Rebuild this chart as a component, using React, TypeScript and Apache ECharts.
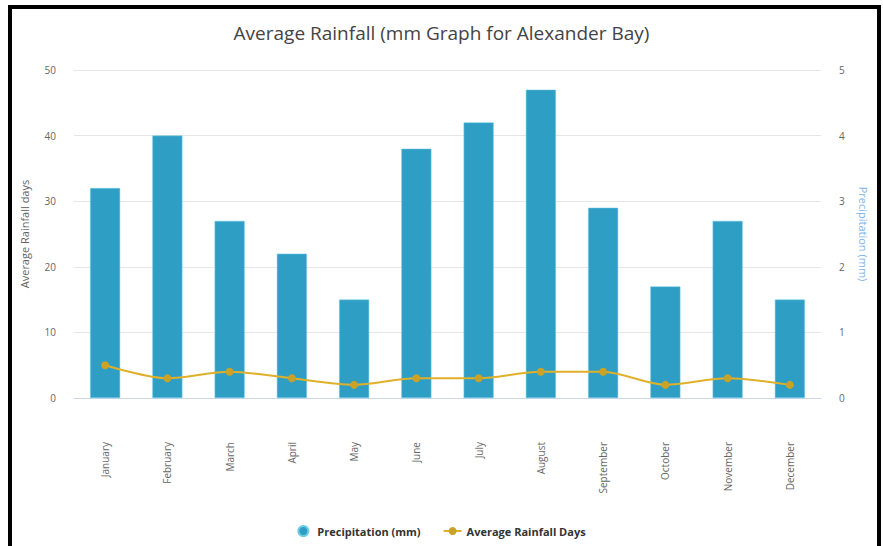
import React, { useEffect, useRef } from "react";
import * as echarts from "echarts";

const months = [
  "January", "February", "March", "April", "May", "June",
  "July", "August", "September", "October", "November", "December",
];
const precipitation = [32, 40, 27, 22, 15, 38, 42, 47, 29, 17, 27, 15];
const rainfallDays = [5, 3, 4, 3, 2, 3, 3, 4, 4, 2, 3, 2];
const leftTicks = { min: 0, max: 50, interval: 10 };
const rightTicks = { min: 0, max: 5, interval: 1 };

const FONT = "'Open Sans', 'Noto Sans', sans-serif";

export default function App() {
  const ref = useRef<HTMLDivElement>(null);
  useEffect(() => {
    if (!ref.current) return;
    const chart = echarts.init(ref.current, undefined, { renderer: "svg" });
    chart.setOption({
      animation: false,
      backgroundColor: "#ffffff",
      textStyle: { fontFamily: FONT },
      title: {
        text: "Average Rainfall (mm Graph for Alexander Bay)",
        left: "center",
        top: 18,
        textStyle: { fontFamily: FONT, fontSize: 19, fontWeight: "normal", color: "#444" },
      },
      legend: {
        bottom: 4,
        left: "center",
        itemGap: 22,
        itemWidth: 18,
        itemHeight: 10,
        textStyle: { fontFamily: FONT, fontSize: 11, fontWeight: "bold", color: "#333" },
        data: [
          { name: "Precipitation (mm)", icon: "circle" },
          { name: "Average Rainfall Days" },
        ],
      },
      grid: { left: 74, right: 62, top: 70, bottom: 148 },
      xAxis: {
        type: "category",
        data: months,
        boundaryGap: true,
        axisLine: { lineStyle: { color: "#ccd6eb" } },
        axisTick: { show: false },
        axisLabel: { rotate: 90, margin: 44, color: "#666", fontSize: 10, fontFamily: FONT },
      },
      yAxis: [
        {
          type: "value",
          ...leftTicks,
          name: "Average Rainfall days",
          nameLocation: "middle",
          nameGap: 44,
          nameTextStyle: { color: "#666", fontSize: 11, fontFamily: FONT },
          axisLabel: { color: "#666", fontSize: 10, margin: 18, fontFamily: FONT },
          splitLine: { lineStyle: { color: "#e6e6e6" } },
          axisLine: { show: false },
          axisTick: { show: false },
        },
        {
          type: "value",
          ...rightTicks,
          name: "Precipitation (mm)",
          nameLocation: "middle",
          nameRotate: -90,
          nameGap: 37,
          nameTextStyle: { color: "#7cb5ec", fontSize: 11, fontFamily: FONT },
          axisLabel: { color: "#666", fontSize: 10, margin: 18, fontFamily: FONT },
          splitLine: { show: false },
          axisLine: { show: false },
          axisTick: { show: false },
        },
      ],
      series: [
        {
          name: "Precipitation (mm)",
          type: "bar",
          yAxisIndex: 0,
          data: precipitation,
          barWidth: 30,
          itemStyle: { color: "#2e9ec4", borderColor: "#6ccbe6", borderWidth: 0.5 },
        },
        {
          name: "Average Rainfall Days",
          type: "line",
          yAxisIndex: 0,
          data: rainfallDays,
          smooth: 0.3,
          symbol: "circle",
          symbolSize: 8,
          lineStyle: { color: "#e0b02a", width: 2 },
          itemStyle: { color: "#c9a227" },
        },
      ],
      graphic: [
        { type: "rect", shape: { x: 8, y: 5, width: 4, height: 541 }, style: { fill: "#000" } },
        { type: "rect", shape: { x: 8, y: 5, width: 873, height: 4 }, style: { fill: "#000" } },
        { type: "rect", shape: { x: 877, y: 5, width: 4, height: 541 }, style: { fill: "#000" } },
      ],
    });
    return () => chart.dispose();
  }, []);
  return (
    <div
      ref={ref}
      style={{ position: "absolute", left: 0, top: 0, width: 883, height: 546 }}
    />
  );
}
